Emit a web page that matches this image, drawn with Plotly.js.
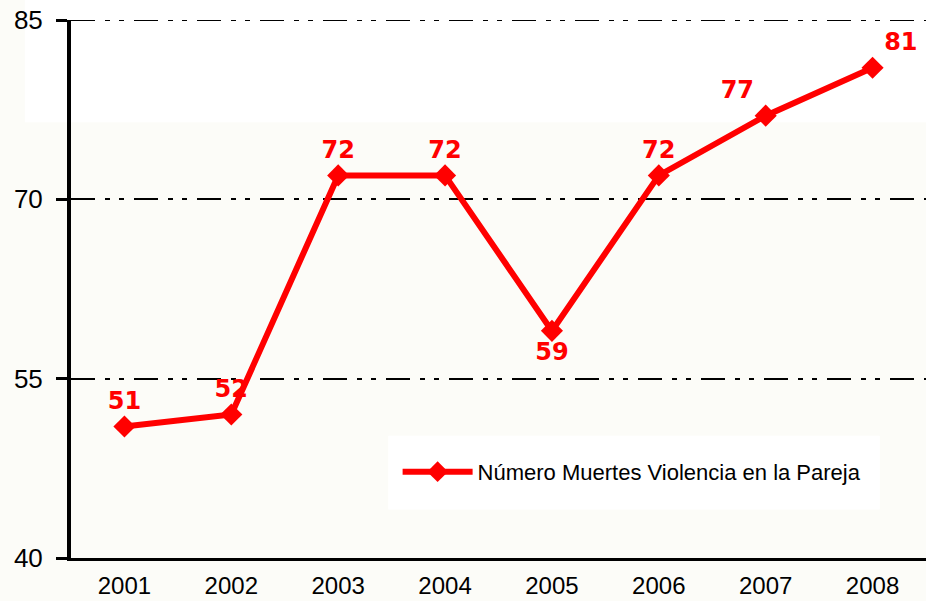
<!DOCTYPE html>
<html>
<head>
<meta charset="utf-8">
<script src="https://cdn.plot.ly/plotly-3.0.1.min.js"></script>
<style>html,body{margin:0;padding:0;background:#fcfcf8;}</style>
</head>
<body>
<div id="chart" style="width:926px;height:601px;"></div>
<script>
const years = ['2001','2002','2003','2004','2005','2006','2007','2008'];
const deaths = [51, 52, 72, 72, 59, 72, 77, 81];
const seriesName = 'Número Muertes Violencia en la Pareja';
const yTicks = [40, 55, 70, 85];

const labelPos = ['top center','top center','top center','top center','bottom center','top center','top left','top right'];
const gridDash = '24px,10px,5px,9px,5px,10px';

const trace = {
  x: years,
  y: deaths,
  name: seriesName,
  type: 'scatter',
  mode: 'lines+markers+text',
  text: deaths.map(String),
  textposition: labelPos,
  textfont: {family: 'DejaVu Sans', size: 24, color: '#ff0000', weight: 'bold'},
  line: {color: '#ff0000', width: 6},
  marker: {symbol: 'diamond', size: 17, color: '#ff0000'},
  cliponaxis: false
};

const layout = {
  width: 926, height: 601,
  margin: {l: 71, r: 0, t: 20, b: 43},
  paper_bgcolor: '#fcfcf8',
  plot_bgcolor: '#fcfcf8',
  showlegend: true,
  font: {family: 'Liberation Sans, Arial, sans-serif', color: '#000'},
  xaxis: {
    type: 'category',
    range: [-0.5, 7.5],
    showgrid: false,
    showline: true, linecolor: '#000', linewidth: 3,
    ticks: '',
    ticklabelstandoff: 4,
    tickfont: {size: 24, family: 'Liberation Sans, Arial, sans-serif'},
    fixedrange: true
  },
  yaxis: {
    range: [40, 85],
    tickvals: yTicks,
    ticktext: yTicks.map(String),
    showgrid: true, gridcolor: '#000', gridwidth: 2,
    griddash: gridDash,
    showline: true, linecolor: '#000', linewidth: 4,
    ticks: 'outside', ticklen: 11, tickwidth: 3, tickcolor: '#000',
    ticklabelstandoff: 8,
    tickfont: {size: 26, family: 'Liberation Sans, Arial, sans-serif'},
    zeroline: false,
    fixedrange: true
  },
  shapes: [
    {type: 'rect', xref: 'paper', yref: 'paper', x0: -0.054, x1: 1.01, y0: 0.81, y1: 1.05,
     fillcolor: '#ffffff', line: {width: 0}, layer: 'below'},
    {type: 'rect', xref: 'paper', yref: 'paper', x0: 0.371, x1: 0.946, y0: 0.09, y1: 0.227,
     fillcolor: '#ffffff', line: {width: 0}, layer: 'below'},
    {type: 'line', xref: 'paper', yref: 'y', x0: 0, x1: 1, y0: yTicks[3], y1: yTicks[3],
     line: {color: '#000', width: 2, dash: gridDash}, layer: 'below'}
  ],
  legend: {
    x: 0.382, y: 0.16, xanchor: 'left', yanchor: 'middle',
    bgcolor: 'rgba(0,0,0,0)',
    font: {size: 22, family: 'Liberation Sans, Arial, sans-serif', color: '#000'},
    itemwidth: 70
  }
};

Plotly.newPlot('chart', [trace], layout, {displayModeBar: false, staticPlot: true});
</script>
</body>
</html>
